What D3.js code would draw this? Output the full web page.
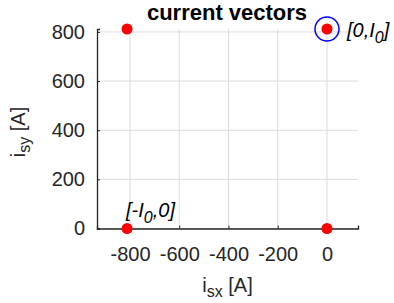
<!DOCTYPE html>
<html><head><meta charset="utf-8">
<script src="https://cdn.jsdelivr.net/npm/d3@7"></script>
<style>body{margin:0;background:#fff}svg{display:block;font-family:"Liberation Sans",Arial,Helvetica,sans-serif}</style>
</head><body>
<script>
const I0 = 812;
const pointsX = [-I0, -I0, 0, 0];
const pointsY = [I0, 0, I0, 0];
const xTicks = [-800, -600, -400, -200, 0];
const yTicks = [0, 200, 400, 600, 800];
const xDomain = [-934, 126];
const yDomain = [0, 812];
const circledX = [0];
const circledY = [I0];

const W = 394, H = 303;
const svg = d3.select("body").append("svg").attr("width", W).attr("height", H);
const x = d3.scaleLinear().domain(xDomain).range([97, 358]);
const y = d3.scaleLinear().domain(yDomain).range([228.5, 29]);
const ink = "#262626";

// grid
svg.append("g").selectAll("line").data(xTicks).join("line")
  .attr("x1", d => x(d)).attr("x2", d => x(d)).attr("y1", y(yDomain[0])).attr("y2", y(yDomain[1]))
  .attr("stroke", "#dcdcdc").attr("stroke-width", 1);
svg.append("g").selectAll("line").data(yTicks).join("line")
  .attr("y1", d => y(d)).attr("y2", d => y(d)).attr("x1", x(xDomain[0])).attr("x2", x(xDomain[1]))
  .attr("stroke", "#dcdcdc").attr("stroke-width", 1);

// axes
const xAxis = svg.append("g").attr("transform", `translate(0,${y(yDomain[0])})`)
  .call(d3.axisBottom(x).tickValues(xTicks).tickSize(-3).tickPadding(18).tickFormat(d3.format("d")));
const yAxis = svg.append("g").attr("transform", `translate(${x(xDomain[0])},0)`)
  .call(d3.axisLeft(y).tickValues(yTicks).tickSize(-3).tickPadding(12).tickFormat(d3.format("d")));
[xAxis, yAxis].forEach(a => {
  a.select(".domain").attr("stroke", ink).attr("stroke-width", 1.3);
  a.selectAll(".tick line").attr("stroke", ink);
  a.selectAll(".tick text").attr("fill", ink).attr("font-size", 20).attr("font-family", '"Liberation Sans",Arial,sans-serif');
});
xAxis.selectAll(".tick text").text(d => d < 0 ? "-" + Math.abs(d) : d);

// points
svg.append("g").selectAll("circle").data(pointsX.map((v, i) => [v, pointsY[i]])).join("circle")
  .attr("cx", d => x(d[0])).attr("cy", d => y(d[1])).attr("r", 5.5).attr("fill", "#ff0000");
svg.append("g").selectAll("circle").data(circledX.map((v, i) => [v, circledY[i]])).join("circle")
  .attr("cx", d => x(d[0])).attr("cy", d => y(d[1])).attr("r", 12).attr("fill", "none")
  .attr("stroke", "#0000ff").attr("stroke-width", 1.5);

// annotations
const t1 = svg.append("text").attr("x", x(0) + 20).attr("y", y(I0) + 8).attr("font-size", 20)
  .attr("font-style", "italic").attr("fill", "#000");
t1.append("tspan").text("[0,I");
t1.append("tspan").attr("dy", 6).attr("font-size", 16).text("0");
t1.append("tspan").attr("dy", -6).text("]");
const t2 = svg.append("text").attr("x", x(-I0) - 1).attr("y", y(0) - 11.5).attr("font-size", 20)
  .attr("font-style", "italic").attr("fill", "#000");
t2.append("tspan").text("[-I");
t2.append("tspan").attr("dy", 6).attr("font-size", 16).text("0");
t2.append("tspan").attr("dy", -6).text(",0]");

// title
svg.append("text").attr("x", 227).attr("y", 19.5).attr("text-anchor", "middle")
  .attr("font-size", 22).attr("font-weight", "bold").attr("fill", "#000").text("current vectors");

// axis labels
const xl = svg.append("text").attr("x", 227.5).attr("y", 292).attr("text-anchor", "middle")
  .attr("font-size", 20).attr("fill", ink);
xl.append("tspan").text("i");
xl.append("tspan").attr("dy", 5).attr("font-size", 16).text("sx");
xl.append("tspan").attr("dy", -5).text(" [A]");
const yl = svg.append("text").attr("transform", "translate(25,132) rotate(-90)").attr("text-anchor", "middle")
  .attr("font-size", 20).attr("fill", ink);
yl.append("tspan").text("i");
yl.append("tspan").attr("dy", 5).attr("font-size", 16).text("sy");
yl.append("tspan").attr("dy", -5).text(" [A]");
</script>
</body></html>
